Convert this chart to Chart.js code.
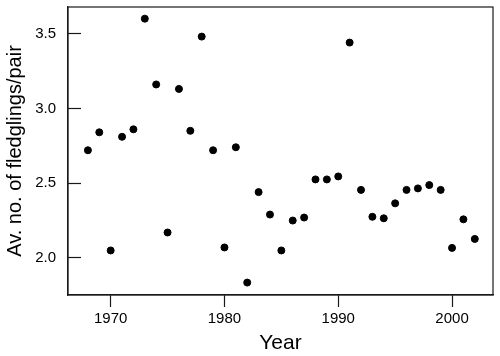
<!DOCTYPE html>
<html>
<head>
<meta charset="utf-8">
<script src="https://cdn.jsdelivr.net/npm/chart.js@4"></script>
<style>
  html, body { margin: 0; padding: 0; background: #fff; }
  canvas { display: block; }
</style>
</head>
<body>
<canvas id="chart" width="500" height="356"></canvas>
<script>
const years = [
  1968, 1969, 1970, 1971, 1972, 1973, 1974, 1975, 1976, 1977, 1978, 1979,
  1980, 1981, 1982, 1983, 1984, 1985, 1986, 1987, 1988, 1989, 1990, 1991,
  1992, 1993, 1994, 1995, 1996, 1997, 1998, 1999, 2000, 2001, 2002
];
const fledglings = [
  2.72, 2.84, 2.05, 2.81, 2.86, 3.60, 3.16, 2.17, 3.13, 2.85, 3.48, 2.72,
  2.07, 2.74, 1.835, 2.44, 2.29, 2.05, 2.25, 2.27, 2.525, 2.525, 2.545, 3.44,
  2.455, 2.275, 2.265, 2.365, 2.455, 2.465, 2.487, 2.455, 2.067, 2.258, 2.127
];
const xTicks = [1970, 1980, 1990, 2000];
const yTicks = [2.0, 2.5, 3.0, 3.5];

const fontFamily = "'Liberation Sans', Arial, Helvetica, sans-serif";
const ink = '#1a1a1a';

// draws the closed box round the plot area
const frameBox = {
  id: 'frameBox',
  afterDraw(chart) {
    const { ctx, chartArea: a } = chart;
    ctx.save();
    ctx.strokeStyle = ink;
    ctx.lineWidth = 1.2;
    ctx.strokeRect(a.left, a.top, a.right - a.left, a.bottom - a.top);
    ctx.restore();
  }
};

new Chart(document.getElementById('chart').getContext('2d'), {
  type: 'scatter',
  data: {
    datasets: [
      {
        data: years.map((year, i) => ({ x: year, y: fledglings[i] })),
        backgroundColor: '#000',
        borderColor: '#000',
        pointRadius: 3.5,
        pointHoverRadius: 3.5
      }
    ]
  },
  options: {
    responsive: false,
    animation: false,
    layout: { padding: { top: 7, right: 7, left: 0, bottom: 0 } },
    plugins: {
      legend: { display: false },
      tooltip: { enabled: false }
    },
    scales: {
      x: {
        type: 'linear',
        min: 1966.25,
        max: 2003.6,
        afterFit(scale) {
          scale.height = 61;
          scale.paddingLeft = 0;
          scale.paddingRight = 0;
        },
        afterBuildTicks(scale) { scale.ticks = xTicks.map((v) => ({ value: v })); },
        grid: { drawOnChartArea: false, tickLength: 12, color: ink, tickWidth: 1.2 },
        border: { color: ink, width: 1.2 },
        ticks: {
          color: '#000',
          padding: 3,
          maxRotation: 0,
          font: { family: fontFamily, size: 15 },
          callback: (v) => String(v)
        },
        title: {
          display: true,
          text: 'Year',
          color: '#000',
          padding: { top: 0, bottom: 0 },
          font: { family: fontFamily, size: 21 }
        }
      },
      y: {
        type: 'linear',
        min: 1.752,
        max: 3.678,
        afterFit(scale) {
          scale.width = 68;
          scale.paddingTop = 0;
          scale.paddingBottom = 0;
        },
        afterBuildTicks(scale) { scale.ticks = yTicks.map((v) => ({ value: v })); },
        // negative length turns the y ticks inward, as in the original
        grid: { drawOnChartArea: false, tickLength: -13, color: ink, tickWidth: 1.2 },
        border: { color: ink, width: 1.2 },
        ticks: {
          color: '#000',
          padding: 25,
          font: { family: fontFamily, size: 15 },
          callback: (v) => Number(v).toFixed(1)
        },
        title: {
          display: true,
          text: 'Av. no. of fledglings/pair',
          color: '#000',
          padding: { top: 3, bottom: 0 },
          font: { family: fontFamily, size: 20 }
        }
      }
    }
  },
  plugins: [frameBox]
});
</script>
</body>
</html>
